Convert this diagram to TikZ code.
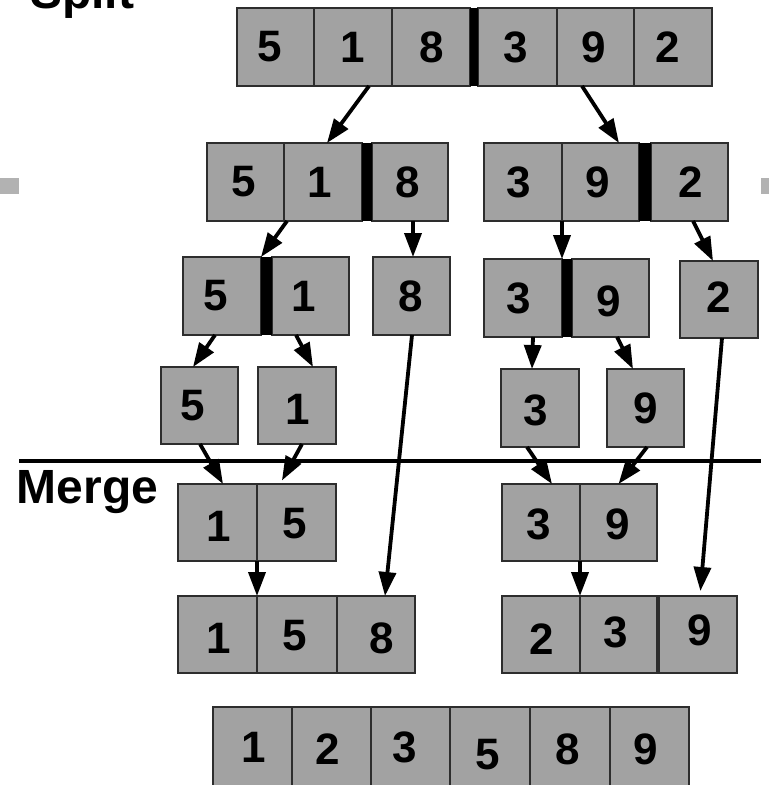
\documentclass[tikz,border=0pt]{standalone}
\usepackage{fontspec}
\setmainfont{Liberation Sans}
\usetikzlibrary{arrows.meta,calc}
\definecolor{cellgray}{RGB}{162,162,162}
\definecolor{celledge}{RGB}{45,45,45}
\definecolor{markgray}{RGB}{178,178,178}
\tikzset{
  cellbox/.style={draw=celledge, fill=cellgray, line width=1.4pt, inner sep=0pt, outer sep=0pt},
  digit/.style={font=\bfseries\fontsize{44}{44}\selectfont, inner sep=0pt},
  arr/.style={line width=3.8pt, -{Triangle[length=24pt,width=17pt]}},
  sepbar/.style={fill=black},
  heading/.style={font=\bfseries\fontsize{48}{48}\selectfont, inner sep=0pt, anchor=base west},
  divider/.style={line width=4pt},
}
% name, x1, y1, x2, y2, digit, dx, dy
\newcommand\mycell[8]{%
  \node[cellbox, minimum width={(#4)-(#2)}, minimum height={(#5)-(#3)},
    label={[digit, xshift=#7pt, yshift=#8pt]center:#6}]
    (#1) at ({((#2)+(#4))/2},{((#3)+(#5))/2}) {};}
\begin{document}
\begin{tikzpicture}[x=1pt, y=-1pt]
\useasboundingbox (0,0) rectangle (769,785);
% headings
\node[heading] (split) at (30,8) {Split};
\node[heading] (merge) at (16.5,503) {Merge};
% edge marks
\fill[markgray] (0,178) rectangle (19,194);
\fill[markgray] (761,178) rectangle (769,194);
% divider
\coordinate (divL) at (19,461);
\coordinate (divR) at (761,461);
\draw[divider] (divL) -- (divR);
% row 1
\mycell{a1}{237}{8}{314}{86}{5}{-6}{0}
\mycell{a2}{314}{8}{392}{86}{1}{0}{0}
\mycell{a3}{392}{8}{470}{86}{8}{1}{0}
\mycell{a4}{478}{8}{557}{86}{3}{-2}{0}
\mycell{a5}{557}{8}{634}{86}{9}{-2}{0}
\mycell{a6}{634}{8}{712}{86}{2}{-5}{0}
\fill[sepbar] (470,8) rectangle (478,86);
% row 2
\mycell{b1}{207}{143}{284}{221}{5}{-2}{0}
\mycell{b2}{284}{143}{362}{221}{1}{-3}{0}
\mycell{b3}{372}{143}{448}{221}{8}{-2.5}{0}
\fill[sepbar] (362,143) rectangle (372,221);
\mycell{b4}{484}{143}{562}{221}{3}{-4}{0}
\mycell{b5}{562}{143}{639}{221}{9}{-3}{0}
\mycell{b6}{651}{143}{728}{221}{2}{1.5}{0}
\fill[sepbar] (639,143) rectangle (651,221);
% row 3
\mycell{c1}{183}{257}{261}{335}{5}{-6}{0}
\mycell{c2}{272}{257}{349}{335}{1}{-6.5}{0}
\fill[sepbar] (261,257) rectangle (272,335);
\mycell{c3}{373}{257}{450}{335}{8}{-0.5}{0}
\mycell{c4}{484}{259}{562}{337}{3}{-4}{0}
\mycell{c5}{572}{259}{649}{337}{9}{-2}{-3.5}
\fill[sepbar] (562,259) rectangle (572,337);
\mycell{c6}{680}{261}{758}{338}{2}{0}{2}
% row 4
\mycell{d1}{161}{367}{238}{444}{5}{-7}{0}
\mycell{d2}{258}{367}{336}{444}{1}{0.5}{-3.5}
\mycell{d3}{501}{369}{579}{447}{3}{-4}{-2}
\mycell{d4}{607}{369}{684}{447}{9}{0.5}{0}
% row 5
\mycell{e1}{178}{484}{257}{561}{1}{1.5}{-3.5}
\mycell{e2}{257}{484}{336}{561}{5}{-1.5}{-1}
\mycell{e3}{502}{484}{580}{561}{3}{-2}{-2}
\mycell{e4}{580}{484}{657}{561}{9}{-1}{-1.5}
% row 6
\mycell{f1}{178}{596}{257}{673}{1}{1.5}{-4}
\mycell{f2}{257}{596}{337}{673}{5}{-2}{-1}
\mycell{f3}{337}{596}{415}{673}{8}{6}{-4}
\mycell{f4}{502}{596}{580}{673}{2}{0.5}{-4.5}
\mycell{f5}{580}{596}{657}{673}{3}{-2.5}{2.5}
\mycell{f6}{659}{596}{737}{673}{9}{2}{4.5}
% row 7
\mycell{g1}{213}{707}{292}{789}{1}{1}{1}
\mycell{g2}{292}{707}{371}{789}{2}{-3.5}{-1.5}
\mycell{g3}{371}{707}{450}{789}{3}{-5.5}{1}
\mycell{g4}{450}{707}{530}{789}{5}{-2.5}{-7}
\mycell{g5}{530}{707}{610}{789}{8}{-2.5}{-1.5}
\mycell{g6}{610}{707}{689}{789}{9}{-3.5}{-1.5}
% arrows
\draw[arr] ([xshift=16pt]a2.south) -- ([xshift=4pt]b2.north);
\draw[arr] ([xshift=-13.5pt]a5.south) -- ([xshift=18.5pt]b5.north);
\draw[arr] ([xshift=3pt]b2.south west) -- (c1.north east);
\draw[arr] ([xshift=3pt]b3.south) -- ([xshift=1.5pt]c3.north);
\draw[arr] (b4.south east) -- (c4.north east);
\draw[arr] ([xshift=3.5pt]b6.south) -- ([xshift=-6pt]c6.north);
\draw[arr] ([xshift=-7pt]c1.south) -- ([xshift=-6.5pt]d1.north);
\draw[arr] ([xshift=-14.5pt]c2.south) -- ([xshift=16pt]d2.north);
\draw[arr] ([xshift=10pt]c4.south) -- ([xshift=-8pt]d3.north);
\draw[arr] ([xshift=6.5pt]c5.south) -- ([xshift=-12.5pt]d4.north);
\draw[arr] ([xshift=0.5pt]c3.south) -- ([xshift=9pt]f3.north);
\draw[arr, shorten >=5pt] ([xshift=3pt]c6.south) -- ([xshift=2pt]f6.north);
\draw[arr] ([xshift=0.5pt]d1.south) -- ([xshift=5.5pt]e1.north);
\draw[arr, shorten >=4pt] ([xshift=5pt]d2.south) -- ([xshift=-16.5pt]e2.north);
\draw[arr] ([xshift=-13pt]d3.south) -- ([xshift=11pt]e3.north);
\draw[arr] ([xshift=1.5pt]d4.south) -- (e4.north);
\draw[arr] (e1.south east) -- (f1.north east);
\draw[arr] (e3.south east) -- (f4.north east);
\end{tikzpicture}
\end{document}
